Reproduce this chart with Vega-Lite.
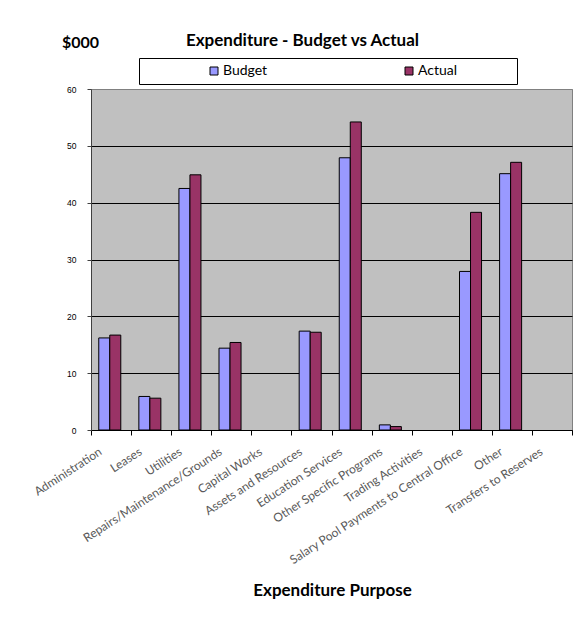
{
  "$schema": "https://vega.github.io/schema/vega-lite/v6.json",
  "autosize": "none",
  "width": 481,
  "height": 341,
  "padding": {"left": 91, "top": 89, "right": 13, "bottom": 198},
  "background": "white",
  "title": {
    "text": "Expenditure - Budget vs Actual",
    "font": "Lato",
    "fontSize": 17,
    "fontWeight": "bold",
    "color": "black",
    "anchor": "middle",
    "frame": "group",
    "dx": -29,
    "dy": 20,
    "offset": 4
  },
  "data": {
    "values": [
      {"purpose": "Administration", "series": "Budget", "value": 16.2},
      {"purpose": "Administration", "series": "Actual", "value": 16.7},
      {"purpose": "Leases", "series": "Budget", "value": 5.9},
      {"purpose": "Leases", "series": "Actual", "value": 5.6},
      {"purpose": "Utilities", "series": "Budget", "value": 42.5},
      {"purpose": "Utilities", "series": "Actual", "value": 44.9},
      {"purpose": "Repairs/Maintenance/Grounds", "series": "Budget", "value": 14.4},
      {"purpose": "Repairs/Maintenance/Grounds", "series": "Actual", "value": 15.4},
      {"purpose": "Capital Works", "series": "Budget", "value": 0},
      {"purpose": "Capital Works", "series": "Actual", "value": 0},
      {"purpose": "Assets and Resources", "series": "Budget", "value": 17.4},
      {"purpose": "Assets and Resources", "series": "Actual", "value": 17.2},
      {"purpose": "Education Services", "series": "Budget", "value": 47.9},
      {"purpose": "Education Services", "series": "Actual", "value": 54.2},
      {"purpose": "Other Specific Programs", "series": "Budget", "value": 0.9},
      {"purpose": "Other Specific Programs", "series": "Actual", "value": 0.6},
      {"purpose": "Trading Activities", "series": "Budget", "value": 0},
      {"purpose": "Trading Activities", "series": "Actual", "value": 0},
      {"purpose": "Salary Pool Payments to Central Office", "series": "Budget", "value": 27.9},
      {"purpose": "Salary Pool Payments to Central Office", "series": "Actual", "value": 38.3},
      {"purpose": "Other", "series": "Budget", "value": 45.1},
      {"purpose": "Other", "series": "Actual", "value": 47.1},
      {"purpose": "Transfers to Reserves", "series": "Budget", "value": 0},
      {"purpose": "Transfers to Reserves", "series": "Actual", "value": 0}
    ]
  },
  "mark": {"type": "bar", "stroke": "black", "strokeWidth": 1},
  "encoding": {
    "x": {
      "field": "purpose",
      "type": "nominal",
      "sort": null,
      "scale": {"paddingInner": 0, "paddingOuter": 0},
      "axis": {
        "title": "Expenditure Purpose",
        "titleFont": "Lato",
        "titleFontSize": 17,
        "titleFontWeight": "bold",
        "titleColor": "black",
        "titleY": 165,
        "titleBaseline": "alphabetic",
        "titleX": 241,
        "titleAlign": "center",
        "tickBand": "extent",
        "tickSize": 5,
        "tickColor": "black",
        "domainColor": "black",
        "labelAngle": -33,
        "labelAlign": "right",
        "labelBaseline": "middle",
        "labelOffset": -11,
        "labelPadding": 15,
        "labelFont": "Lato",
        "labelFontSize": 12,
        "labelColor": "#595959",
        "labelLimit": 400,
        "labelOverlap": false,
        "grid": false
      }
    },
    "xOffset": {
      "field": "series",
      "type": "nominal",
      "sort": ["Budget", "Actual"],
      "scale": {"paddingInner": 0, "paddingOuter": 0.82, "align": 0.43}
    },
    "y": {
      "field": "value",
      "type": "quantitative",
      "scale": {"domain": [0, 60], "nice": false},
      "axis": {
        "values": [0, 10, 20, 30, 40, 50, 60],
        "title": "$000",
        "titleAngle": 0,
        "titleX": -11,
        "titleY": -42,
        "titleAlign": "center",
        "titleBaseline": "alphabetic",
        "titleFont": "Lato",
        "titleFontSize": 16,
        "titleFontWeight": "bold",
        "titleColor": "black",
        "labelFont": "Liberation Sans",
        "labelFontSize": 8.5,
        "labelColor": "black",
        "labelPadding": 11,
        "tickSize": 4,
        "tickColor": "#404040",
        "domainColor": "#404040",
        "grid": true,
        "gridColor": {"condition": {"test": "datum.value == 60", "value": "#808080"}, "value": "black"},
        "gridOpacity": 1,
        "gridWidth": 1
      }
    },
    "strokeOpacity": {
      "condition": {"test": "datum.value == 0", "value": 0},
      "value": 1
    },
    "color": {
      "field": "series",
      "type": "nominal",
      "scale": {"domain": ["Budget", "Actual"], "range": ["#9999FF", "#993366"]},
      "legend": {
        "orient": "none",
        "legendX": 48,
        "legendY": -31,
        "direction": "horizontal",
        "title": null,
        "padding": 6,
        "strokeColor": "black",
        "fillColor": "white",
        "symbolType": "square",
        "symbolSize": 64,
        "symbolStrokeColor": "black",
        "symbolStrokeWidth": 1,
        "symbolOffset": 62,
        "labelFont": "Lato",
        "labelFontSize": 14,
        "labelColor": "black",
        "labelOffset": 2,
        "columnPadding": 72,
        "labelExpr": "datum.label == 'Actual' ? datum.label + '\u00a0\u00a0\u00a0\u00a0\u00a0\u00a0\u00a0\u00a0\u00a0\u00a0\u00a0\u00a0\u00a0\u00a0\u00a0\u200b' : datum.label"
      }
    }
  },
  "config": {
    "view": {"stroke": "#808080", "fill": "#C0C0C0"}
  }
}
